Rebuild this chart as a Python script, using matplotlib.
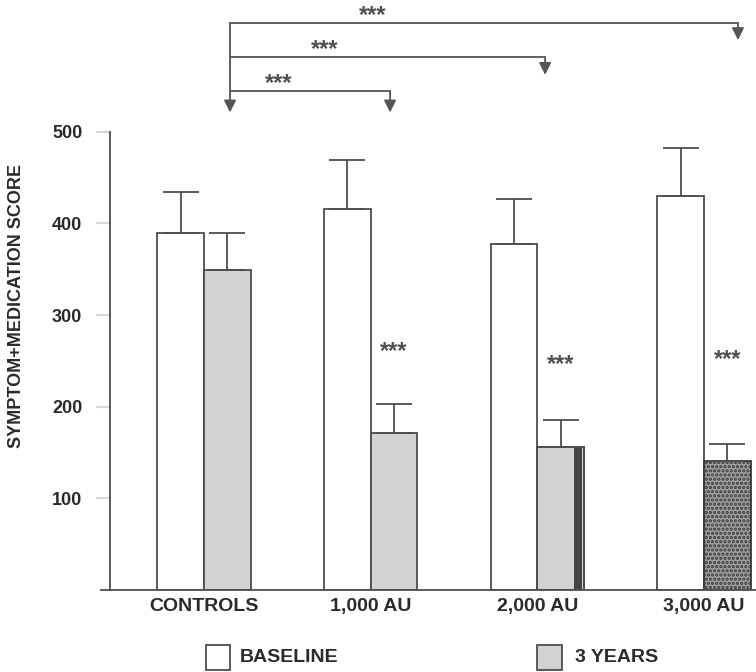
import matplotlib
matplotlib.use("Agg")
import matplotlib.pyplot as plt
from matplotlib.patches import Rectangle
import numpy as np

plt.rcParams['font.family'] = ['Liberation Sans', 'DejaVu Sans']
plt.rcParams['hatch.linewidth'] = 1.6

categories = ["CONTROLS", "1,000 AU", "2,000 AU", "3,000 AU"]
baseline = [390, 416, 377, 430]
baseline_err = [44, 53, 50, 52]
years3 = [349, 171, 156, 141]
years3_err = [41, 32, 30, 18]
yticks = [100, 200, 300, 400, 500]
sig_label = "***"
legend_labels = ["BASELINE", "3 YEARS"]

W, H = 756, 672
fig = plt.figure(figsize=(W / 100, H / 100), dpi=100)
ax = fig.add_axes([110 / W, (H - 590) / H, 646 / W, (590 - 131.7) / H])

edge = '#4d4d4d'
txt = '#2a2a2a'
x = np.arange(len(categories))
w = 0.28

ax.bar(x - w / 2, baseline, w, color='white', edgecolor=edge, linewidth=1.3, zorder=2)
ax.errorbar(x - w / 2, baseline, yerr=[np.zeros(4), baseline_err], fmt='none',
            ecolor=edge, elinewidth=1.3, capsize=13, capthick=1.3, zorder=3)

fc3 = ['#d2d2d2', '#d2d2d2', '#d2d2d2', '#a0a0a0']
hatches = [None, None, None, '....']
for i in range(4):
    ax.bar(x[i] + w / 2, years3[i], w, color=fc3[i], edgecolor='#3a3a3a' if hatches[i] else edge,
           linewidth=1.3, hatch=hatches[i], zorder=2)
# dark stripe on 2,000 AU bar
ax.bar(x[2] + w - 0.035, years3[2], 0.05, color='#444444', edgecolor='none', zorder=2.5)
ax.bar(x[2] + w / 2, years3[2], w, color='none', edgecolor=edge, linewidth=1.3, zorder=2.6)
ax.errorbar(x + w / 2, years3, yerr=[np.zeros(4), years3_err], fmt='none',
            ecolor=edge, elinewidth=1.3, capsize=13, capthick=1.3, zorder=3)

star_kw = dict(ha='center', va='center', fontsize=17, fontweight='bold', color='#505050')

# significance stars above treated bars
star_y = [260, 246, 252]
for i, sy in zip([1, 2, 3], star_y):
    ax.text(x[i] + w / 2, sy, sig_label, **star_kw)

# top brackets
lc = '#555555'
left = x[0] + 0.156
br = [(x[1] + 0.116, 544, 521, 0.45, 553),
      (x[2] + 0.046, 581, 562, 0.726, 590),
      (x[3] + 0.203, 618.5, 600, 1.014, 627)]
arrow_kw = dict(arrowstyle='-|>', color=lc, lw=1.3, mutation_scale=18, shrinkA=0, shrinkB=0)
for (rx, ly, tip, sx, sy) in br:
    ax.plot([left, rx], [ly, ly], color=lc, lw=1.3, clip_on=False)
    ax.annotate('', xy=(rx, tip), xytext=(rx, ly), xycoords='data',
                arrowprops=arrow_kw, annotation_clip=False)
    ax.text(sx, sy, sig_label, clip_on=False, **star_kw)
ax.annotate('', xy=(left, 521), xytext=(left, 618.5), xycoords='data',
            arrowprops=arrow_kw, annotation_clip=False)

ax.set_xlim(-0.564, 3.311)
ax.set_ylim(0, 500)
ax.set_yticks(yticks)
ax.set_yticklabels([str(t) for t in yticks], fontsize=13, fontweight='bold', color=txt)
ax.tick_params(axis='y', length=10, width=1.5, color='#d8d8d8', pad=10)
ax.set_xticks(x)
ax.set_xticklabels(categories, fontsize=14, fontweight='bold', color=txt)
ax.tick_params(axis='x', length=0, pad=6)

for s in ['top', 'right']:
    ax.spines[s].set_visible(False)
ax.spines['left'].set_color(edge)
ax.spines['left'].set_linewidth(1.3)
ax.spines['bottom'].set_color(edge)
ax.spines['bottom'].set_linewidth(1.3)
ax.spines['bottom'].set_bounds(-0.62, 3.311)

ax.set_ylabel("SYMPTOM+MEDICATION SCORE", fontsize=13, fontweight='bold', color=txt)
ax.yaxis.set_label_coords(-0.131, 0.62)

# legend
fig.add_artist(Rectangle((206 / W, (H - 670) / H), 24 / W, 25 / H, transform=fig.transFigure,
                         facecolor='white', edgecolor=edge, linewidth=1.3))
fig.text(240 / W, (H - 657) / H, legend_labels[0], fontsize=14, fontweight='bold',
         color=txt, va='center', ha='left')
fig.add_artist(Rectangle((537 / W, (H - 670) / H), 25 / W, 25 / H, transform=fig.transFigure,
                         facecolor='#d2d2d2', edgecolor=edge, linewidth=1.3))
fig.text(575 / W, (H - 657) / H, legend_labels[1], fontsize=14, fontweight='bold',
         color=txt, va='center', ha='left')

fig.savefig("out.png", dpi=100, facecolor='white')
